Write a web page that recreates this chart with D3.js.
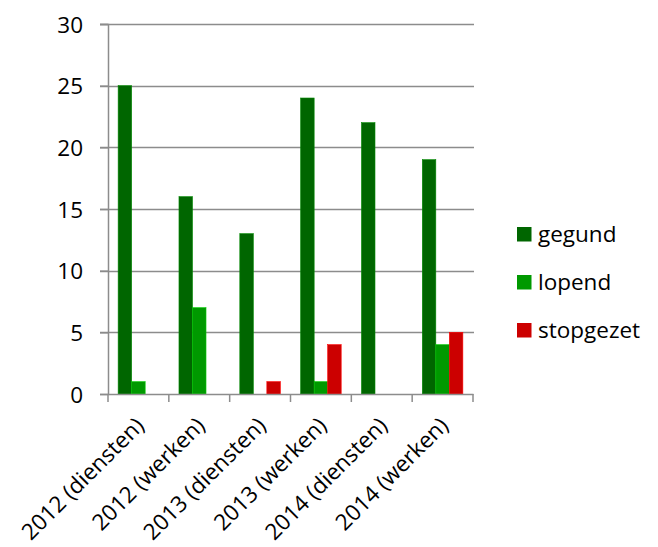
<!DOCTYPE html>
<html>
<head>
<meta charset="utf-8">
<script src="https://cdn.jsdelivr.net/npm/d3@7"></script>
<style>
  body { margin: 0; background: #fff; }
  svg text { font-family: "Open Sans", sans-serif; fill: #000; }
</style>
</head>
<body>
<script>
// data
const categories = ['2012 (diensten)', '2012 (werken)', '2013 (diensten)',
                    '2013 (werken)', '2014 (diensten)', '2014 (werken)'];
const seriesNames = ['gegund', 'lopend', 'stopgezet'];
const gegund    = [25, 16, 13, 24, 22, 19];
const lopend    = [1, 7, 0, 1, 0, 4];
const stopgezet = [0, 0, 1, 4, 0, 5];
const yTicks = [0, 5, 10, 15, 20, 25, 30];

const colors = {gegund: '#006600', lopend: '#009900', stopgezet: '#cc0000'};
const values = {gegund: gegund, lopend: lopend, stopgezet: stopgezet};

const width = 658, height = 547;
const margin = {top: 24, right: 185, bottom: 153, left: 108};
const fontSize = 22.5;

const svg = d3.select('body').append('svg')
  .attr('width', width)
  .attr('height', height);

const xScale = d3.scaleBand()
  .domain(categories)
  .range([margin.left, width - margin.right]);

const xInner = d3.scaleBand()
  .domain(seriesNames)
  .range([0, xScale.bandwidth()])
  .paddingOuter(0.75)
  .paddingInner(0);

const yScale = d3.scaleLinear()
  .domain([0, 30])
  .range([height - margin.bottom, margin.top]);

// gridlines
svg.append('g')
  .selectAll('line')
  .data(yTicks.filter(d => d > 0))
  .join('line')
  .attr('x1', margin.left - 8)
  .attr('x2', width - margin.right + 1)
  .attr('y1', d => Math.round(yScale(d)) + 0.5)
  .attr('y2', d => Math.round(yScale(d)) + 0.5)
  .attr('stroke', '#8c8c8c')
  .attr('stroke-width', 1.5);

// bars
const groups = svg.append('g')
  .selectAll('g')
  .data(categories)
  .join('g')
  .attr('transform', d => `translate(${xScale(d)},0)`);

groups.selectAll('rect')
  .data((c, i) => seriesNames.map(s => ({series: s, value: values[s][i]})))
  .join('rect')
  .filter(d => d.value > 0)
  .attr('x', d => xInner(d.series))
  .attr('width', xInner.bandwidth())
  .attr('y', d => yScale(d.value))
  .attr('height', d => yScale(0) - yScale(d.value))
  .attr('fill', d => colors[d.series])
  .attr('stroke', d => d3.color(colors[d.series]).brighter(0.8))
  .attr('stroke-width', 0.6);

// Y axis
const yAxis = d3.axisLeft(yScale).tickValues(yTicks).tickSize(8).tickPadding(17);
const gy = svg.append('g')
  .attr('transform', `translate(${margin.left},0)`)
  .call(yAxis);
gy.attr('font-family', null).attr('font-size', null);
gy.select('.domain').attr('stroke', '#8c8c8c').attr('stroke-width', 1.5);
gy.selectAll('.tick line').attr('stroke', '#8c8c8c').attr('stroke-width', 1.5);
gy.selectAll('text')
  .style('font-size', fontSize + 'px')
  .attr('dy', '0.36em');

// X axis
const xAxis = d3.axisBottom(xScale).tickSize(0).tickSizeOuter(0);
const gx = svg.append('g')
  .attr('transform', `translate(0,${height - margin.bottom})`)
  .call(xAxis);
gx.attr('font-family', null).attr('font-size', null);
gx.select('.domain').attr('stroke', '#8c8c8c').attr('stroke-width', 1.5);
gx.selectAll('.sep')
  .data(d3.range(categories.length + 1))
  .join('line')
  .attr('x1', i => margin.left + i * xScale.bandwidth())
  .attr('x2', i => margin.left + i * xScale.bandwidth())
  .attr('y1', 0)
  .attr('y2', 8)
  .attr('stroke', '#8c8c8c')
  .attr('stroke-width', 1.5);
gx.selectAll('.tick text')
  .style('font-size', fontSize + 'px')
  .style('text-anchor', 'end')
  .attr('x', 0)
  .attr('y', 0)
  .attr('dy', 0)
  .attr('transform', 'translate(7,33) rotate(-45)');

// legend
const legend = svg.append('g')
  .attr('transform', 'translate(517,227)');
const items = legend.selectAll('g')
  .data(seriesNames)
  .join('g')
  .attr('transform', (d, i) => `translate(0,${i * 48})`);
items.append('rect')
  .attr('width', 14.5)
  .attr('height', 14.5)
  .attr('fill', d => colors[d]);
items.append('text')
  .attr('x', 21)
  .attr('y', 15)
  .style('font-size', fontSize + 'px')
  .text(d => d);
</script>
</body>
</html>
